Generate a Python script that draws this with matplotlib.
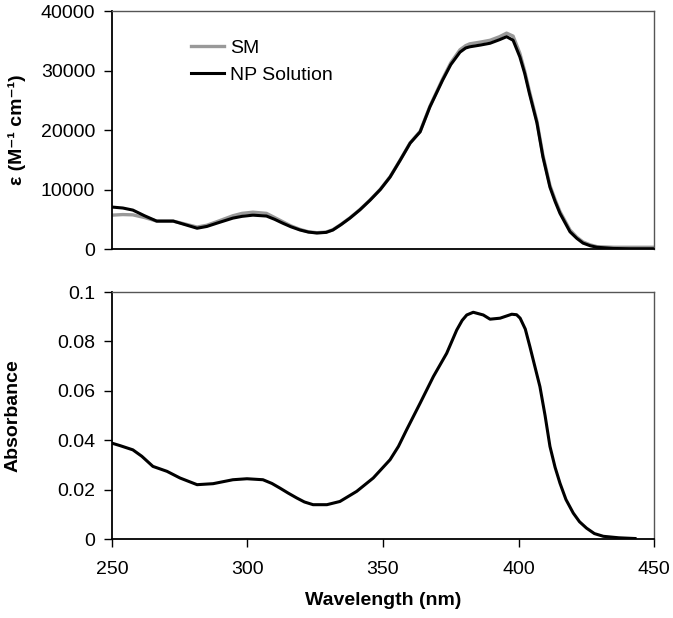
import matplotlib
matplotlib.use('Agg')
import matplotlib.pyplot as plt

plt.rcParams['font.family'] = ['Liberation Sans', 'DejaVu Sans']

# top panel: molar absorptivity
wl_top = [250, 254, 257.7, 262, 266.5, 272.6, 277, 281.4, 285, 288.7, 294.6, 298, 302, 307, 310,
          313, 316, 319.4, 322.5, 325.6, 329, 331.5, 334.5, 337.8, 341.5, 345.2, 349, 352.6,
          356.3, 360, 363.7, 367.3, 372, 375, 378.4, 380.5, 382, 386, 389.5, 393, 395.6, 398,
          400.5, 402.3, 404, 406.8, 409, 411.6, 413.5, 415.3, 419, 421.5, 423.8, 426.5, 429,
          435, 441, 450]
np_sol = [7060, 6900, 6550, 5600, 4700, 4700, 4100, 3500, 3800, 4350, 5200, 5500, 5700, 5550,
          5000, 4350, 3750, 3200, 2850, 2700, 2800, 3200, 4100, 5200, 6600, 8200, 10000, 12100,
          14900, 17800, 19700, 23900, 28400, 31000, 33100, 33800, 34000, 34300, 34600, 35200,
          35700, 35100, 32300, 29500, 26200, 21200, 15500, 10400, 8000, 6000, 2900, 1800, 1000,
          550, 300, 100, 50, 50]
sm = [5700, 5800, 5750, 5300, 4700, 4700, 4200, 3700, 4000, 4600, 5600, 6000, 6200, 6000,
      5300, 4600, 3900, 3300, 2900, 2750, 2850, 3250, 4150, 5250, 6650, 8250, 10050, 12150,
      14950, 17850, 19800, 24000, 28600, 31300, 33500, 34200, 34500, 34800, 35100, 35700,
      36300, 35800, 32900, 29900, 26600, 21500, 15800, 10700, 8300, 6300, 3200, 2000, 1200,
      700, 400, 300, 300, 300]

# bottom panel: absorbance
wl_abs = [250, 253, 257.7, 261, 265.1, 270.3, 275.1, 281.4, 287.3, 294.6, 299.8, 305.7, 309,
          312, 315, 318.2, 321, 324.2, 329.3, 334.1, 340.3, 346.4, 352.6, 355.7, 358.7, 363.7,
          368.6, 373.5, 377.2, 379.2, 380.9, 383.3, 387, 389.5, 393.2, 397.5, 399.3, 400.6,
          402.5, 404.2, 406, 407.9, 409.8, 411.6, 413.5, 415.3, 417.5, 420.2, 422.5, 425.1,
          428, 431.3, 437, 441, 443]
absorb = [0.0388, 0.0378, 0.0361, 0.0335, 0.0294, 0.0274, 0.0247, 0.0220, 0.0224, 0.0240,
          0.0244, 0.0240, 0.0225, 0.0206, 0.0186, 0.0166, 0.0150, 0.0139, 0.0139, 0.0152,
          0.0193, 0.0247, 0.0321, 0.0375, 0.0442, 0.0550, 0.0658, 0.0752, 0.0846, 0.0885,
          0.0907, 0.0918, 0.0907, 0.0890, 0.0894, 0.0910, 0.0908, 0.0894, 0.0850, 0.0779,
          0.0700, 0.0617, 0.0500, 0.0375, 0.0290, 0.0226, 0.0160, 0.0105, 0.0070, 0.0044,
          0.0022, 0.0011, 0.0005, 0.0003, 0.0002]

fig = plt.figure(figsize=(6.73, 6.18), dpi=100)
ax1 = fig.add_axes([0.1664, 0.597, 0.8054, 0.385])
ax2 = fig.add_axes([0.1664, 0.1278, 0.8054, 0.3997])

ax1.plot(wl_top, sm, color='#999999', lw=2.4, label='SM')
ax1.plot(wl_top, np_sol, color='black', lw=2.2, label='NP Solution')
ax1.set_xlim(250, 450)
ax1.set_ylim(0, 40000)
ax1.set_yticks([0, 10000, 20000, 30000, 40000])
ax1.set_xticks([])
ax1.set_ylabel('ε (M⁻¹ cm⁻¹)', fontsize=14, fontweight='bold', va='center')
ax1.yaxis.set_label_coords(-0.175, 0.5)
ax1.legend(loc='upper left', bbox_to_anchor=(0.113, 0.955), frameon=False, fontsize=14,
           handlelength=1.7, handletextpad=0.3, labelspacing=0.5)

ax2.plot(wl_abs, absorb, color='black', lw=2.2)
ax2.set_xlim(250, 450)
ax2.set_ylim(0, 0.1)
ax2.set_yticks([0, 0.02, 0.04, 0.06, 0.08, 0.1])
ax2.set_yticklabels(['0', '0.02', '0.04', '0.06', '0.08', '0.1'])
ax2.set_xticks([250, 300, 350, 400, 450])
ax2.set_ylabel('Absorbance', fontsize=14, fontweight='bold', va='center')
ax2.yaxis.set_label_coords(-0.183, 0.5)
ax2.set_xlabel('Wavelength (nm)', fontsize=14, fontweight='bold', va='center')
ax2.xaxis.set_label_coords(0.5, -0.247)

for ax in (ax1, ax2):
    ax.tick_params(direction='out', length=6, width=1, labelsize=14)
    ax.tick_params(axis='y', right=False, pad=6)
    ax.tick_params(axis='x', pad=10)
    for s in ('top', 'right'):
        ax.spines[s].set_color('#555555')
        ax.spines[s].set_linewidth(1.0)
    for s in ('left', 'bottom'):
        ax.spines[s].set_linewidth(1.3)

fig.savefig('out.png', dpi=100)
